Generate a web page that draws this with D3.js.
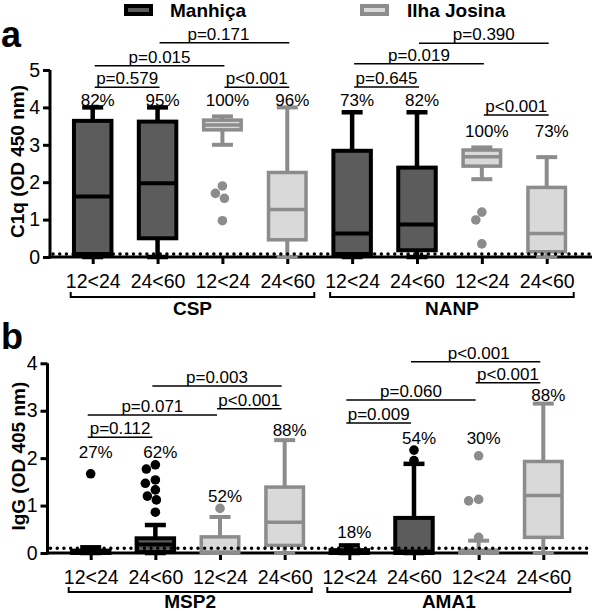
<!DOCTYPE html>
<html><head><meta charset="utf-8">
<script src="https://cdn.jsdelivr.net/npm/d3@7"></script>
<style>
body{margin:0;background:#fff}
svg{display:block}
text{font-family:"Liberation Sans",Arial,Helvetica,sans-serif;fill:#000}
</style>
</head><body>
<svg id="chart" width="592" height="611"></svg>
<script>
// ---------------- DATA ----------------
const sites = ["Manhiça", "Ilha Josina"];
const ageGroups = ["12<24", "24<60"];
const antigensA = ["CSP", "NANP"];
const antigensB = ["MSP2", "AMA1"];
// box order inside each antigen: Manhiça 12<24, Manhiça 24<60, Ilha Josina 12<24, Ilha Josina 24<60
const boxSite = [0, 0, 1, 1, 0, 0, 1, 1];
const boxAge  = [0, 1, 0, 1, 0, 1, 0, 1];

// Panel a: C1q (OD 450 nm)
const c1qMin    = [0, 0, 3.00, 0, 0, 0, 2.08, 0];
const c1qQ1     = [0.08, 0.50, 3.40, 0.46, 0.08, 0.18, 2.43, 0.14];
const c1qMedian = [1.62, 1.97, 3.53, 1.27, 0.63, 0.87, 2.68, 0.63];
const c1qQ3     = [3.64, 3.62, 3.66, 2.26, 2.84, 2.39, 2.86, 1.86];
const c1qMax    = [4.00, 4.00, 3.76, 4.00, 3.87, 3.87, 2.93, 2.67];
const c1qOutliers = [[], [], [1.90, 1.70, 1.57, 0.97], [], [], [], [1.20, 0.99, 0.35], []];
const c1qPercent = ["82%", "95%", "100%", "96%", "73%", "82%", "100%", "73%"];
const c1qPairs = [[0, 1], [0, 2], [1, 3], [2, 3], [4, 5], [4, 6], [5, 7], [6, 7]];
const c1qPValues = ["p=0.579", "p=0.015", "p=0.171", "p<0.001", "p=0.645", "p=0.019", "p=0.390", "p<0.001"];
const c1qTicks = [0, 1, 2, 3, 4, 5];
const c1qCutoff = 0.08;

// Panel b: IgG (OD 405 nm)
const igMin    = [0, 0, 0, 0, 0, 0, 0, 0];
const igQ1     = [0.00, 0.02, 0.00, 0.16, 0.00, 0.00, 0.00, 0.33];
const igMedian = [0.02, 0.18, 0.02, 0.65, 0.02, 0.03, 0.02, 1.21];
const igQ3     = [0.05, 0.31, 0.34, 1.39, 0.06, 0.74, 0.06, 1.93];
const igMax    = [0.12, 0.59, 0.76, 2.38, 0.16, 1.88, 0.26, 3.15];
const igOutliers = [[1.67], [1.86, 1.77, 1.54, 1.47, 1.33, 1.20, 1.12, 0.86], [0.94], [], [], [2.17, 1.95], [2.05, 1.13, 1.10, 0.33], []];
const igPercent = ["27%", "62%", "52%", "88%", "18%", "54%", "30%", "88%"];
const igPairs = [[0, 1], [0, 2], [1, 3], [2, 3], [4, 5], [4, 6], [5, 7], [6, 7]];
const igPValues = ["p=0.112", "p=0.071", "p=0.003", "p<0.001", "p=0.009", "p=0.060", "p<0.001", "p<0.001"];
const igTicks = [0, 1, 2, 3, 4];
const igCutoff = 0.1;

// ---------------- STYLE / LAYOUT ----------------
const siteFill = ["#5c5c5c", "#d9d9d9"];
const siteStroke = ["#000000", "#8c8c8c"];
const siteStrokeW = [4, 3.5];
const FONT_TXT = 17, FONT_TICK = 19.5, FONT_BOLD = 19;

const panels = [
  {
    letter: "a", letterY: 47, yTitle: "C1q (OD 450 nm)", titleX: 23.5,
    axisX: 50, xRange: [92.7, 546.7], yRange: [257, 70], yMax: 5, xEnd: 592,
    tickBase: 288, groupY: 297, groupLabelY: 314.5,
    antigens: antigensA, min: c1qMin, q1: c1qQ1, med: c1qMedian, q3: c1qQ3, max: c1qMax,
    outliers: c1qOutliers, percent: c1qPercent, pairs: c1qPairs, pvals: c1qPValues,
    ticks: c1qTicks, cutoff: c1qCutoff,
    pctY: [106, 106, 106, 106, 106, 106, 136.5, 136.5],
    pairY: [87.3, 65.7, 42.7, 87.3, 87, 63.7, 43.3, 115],
    pairDx: 2, pTextDx: [0, 0, -6, 0, 0, 0, 0, 0]
  },
  {
    letter: "b", letterY: 349, yTitle: "IgG (OD 405 nm)", titleX: 25,
    axisX: 47.5, xRange: [90.7, 543.3], yRange: [553, 363.3], yMax: 4, xEnd: 588,
    tickBase: 583.5, groupY: 592, groupLabelY: 607.5,
    antigens: antigensB, min: igMin, q1: igQ1, med: igMedian, q3: igQ3, max: igMax,
    outliers: igOutliers, percent: igPercent, pairs: igPairs, pvals: igPValues,
    ticks: igTicks, cutoff: igCutoff,
    pctY: [458, 458, 501.7, 436, 538, 444, 444, 400.7],
    pairY: [437.3, 415, 386, 408.7, 423, 400, 361.7, 382.7],
    pairDx: -3, pTextDx: [0, 0, 0, 0, 0, 0, 3, 0]
  }
];

const svg = d3.select("#chart");

// ---------------- LEGEND ----------------
const legendX = [126, 362], legendTextX = [170, 407];
sites.forEach((s, i) => {
  svg.append("rect").attr("x", legendX[i]).attr("y", 6).attr("width", 25).attr("height", 8)
    .attr("fill", siteFill[i]).attr("stroke", siteStroke[i]).attr("stroke-width", 4);
  svg.append("text").attr("x", legendTextX[i]).attr("y", 16.5)
    .attr("font-size", FONT_BOLD).attr("font-weight", "bold").text(s);
});

// beeswarm-like dodge for outliers
function dodge(vals, cx, y, r) {
  const placed = [];
  vals.forEach(v => {
    const py = y(v);
    let dx = 0;
    for (let k = 0; k < 80; k++) {
      const cands = k === 0 ? [0] : [-k, k];
      const ok = cands.find(c => placed.every(p => Math.hypot(p.x - c, p.y - py) >= 2 * r));
      if (ok !== undefined) { dx = ok; break; }
    }
    placed.push({ x: dx, y: py });
  });
  return placed.map(p => ({ cx: cx + p.x, cy: p.y }));
}

panels.forEach(P => {
  const g = svg.append("g");
  const keys = d3.range(8).map(i => P.antigens[Math.floor(i / 4)] + "|" + sites[boxSite[i]] + "|" + ageGroups[boxAge[i]]);
  const x = d3.scalePoint().domain(keys).range(P.xRange);
  const y = d3.scaleLinear().domain([0, P.yMax]).range(P.yRange);

  // panel letter
  g.append("text").attr("x", 1).attr("y", P.letterY).attr("font-size", 36).attr("font-weight", "bold").text(P.letter);

  // y title
  const ymid = (P.yRange[0] + P.yRange[1]) / 2 - 2;
  g.append("text").attr("transform", `translate(${P.titleX},${ymid}) rotate(-90)`)
    .attr("text-anchor", "middle").attr("font-size", FONT_BOLD).attr("font-weight", "bold").text(P.yTitle);

  // y axis
  const ya = g.append("g").attr("transform", `translate(${P.axisX},0)`)
    .call(d3.axisLeft(y).tickValues(P.ticks).tickSize(7).tickPadding(3).tickFormat(d3.format("d")));
  ya.selectAll("path, line").attr("stroke", "#000").attr("stroke-width", 3);
  ya.select(".domain").attr("d", `M0,${P.yRange[0] + 1.5}V${P.yRange[1]}`);
  ya.selectAll("text").attr("font-size", FONT_TICK).attr("fill", "#000")
    .style("font-family", '"Liberation Sans",Arial,sans-serif');

  // x axis
  const xa = g.append("g").attr("transform", `translate(0,${P.yRange[0]})`)
    .call(d3.axisBottom(x).tickSize(7).tickPadding(6).tickFormat(k => k.split("|")[2]));
  xa.select(".domain").remove();
  xa.selectAll("line").attr("stroke", "#000").attr("stroke-width", 3);
  xa.selectAll("text").attr("font-size", FONT_TICK).attr("fill", "#000").attr("dy", null)
    .attr("y", P.tickBase - P.yRange[0])
    .style("font-family", '"Liberation Sans",Arial,sans-serif');
  g.append("line").attr("x1", P.axisX - 1.5).attr("x2", P.xEnd).attr("y1", P.yRange[0]).attr("y2", P.yRange[0])
    .attr("stroke", "#000").attr("stroke-width", 3);

  // group brackets
  P.antigens.forEach((a, gi) => {
    const x0 = x(keys[gi * 4]) - 22, x1 = x(keys[gi * 4 + 3]) + 27;
    g.append("path").attr("d", `M${x0},${P.groupY - 5}V${P.groupY}H${x1}V${P.groupY - 5}`)
      .attr("fill", "none").attr("stroke", "#000").attr("stroke-width", 2);
    g.append("text").attr("x", (x0 + x1) / 2).attr("y", P.groupLabelY).attr("text-anchor", "middle")
      .attr("font-size", FONT_BOLD).attr("font-weight", "bold").text(a);
  });

  // boxes
  const bw = 37.5, cw = 21;
  d3.range(8).forEach(i => {
    const cx = x(keys[i]), s = boxSite[i];
    const col = siteStroke[s], sw = siteStrokeW[s];
    const bg = g.append("g");
    bg.append("line").attr("x1", cx).attr("x2", cx).attr("y1", y(P.max[i])).attr("y2", y(P.q3[i]))
      .attr("stroke", col).attr("stroke-width", sw + 0.5);
    bg.append("line").attr("x1", cx).attr("x2", cx).attr("y1", y(P.q1[i])).attr("y2", y(P.min[i]))
      .attr("stroke", col).attr("stroke-width", sw + 0.5);
    [P.max[i], P.min[i]].forEach(v => {
      bg.append("line").attr("x1", cx - cw / 2).attr("x2", cx + cw / 2).attr("y1", y(v)).attr("y2", y(v))
        .attr("stroke", col).attr("stroke-width", sw + 0.5);
    });
    const top = y(P.q3[i]), bot = y(P.q1[i]);
    bg.append("rect").attr("x", cx - bw / 2).attr("width", bw).attr("y", top).attr("height", Math.max(0.5, bot - top))
      .attr("fill", siteFill[s]).attr("stroke", col).attr("stroke-width", sw);
    bg.append("line").attr("x1", cx - bw / 2).attr("x2", cx + bw / 2).attr("y1", y(P.med[i])).attr("y2", y(P.med[i]))
      .attr("stroke", col).attr("stroke-width", sw);
  });

  // cutoff dotted line
  g.append("line").attr("x1", P.axisX + 3).attr("x2", P.xEnd).attr("y1", y(P.cutoff)).attr("y2", y(P.cutoff))
    .attr("stroke", "#000").attr("stroke-width", 3.4).attr("stroke-linecap", "round")
    .attr("stroke-dasharray", "0.1,6.6");

  // outliers
  d3.range(8).forEach(i => {
    const pts = dodge(P.outliers[i], x(keys[i]), y, 4.8);
    g.selectAll(null).data(pts).enter().append("circle")
      .attr("cx", d => d.cx).attr("cy", d => d.cy).attr("r", 4.8)
      .attr("fill", siteStroke[boxSite[i]]);
  });

  // percent labels
  P.percent.forEach((t, i) => {
    g.append("text").attr("x", x(keys[i]) + 5).attr("y", P.pctY[i]).attr("text-anchor", "middle")
      .attr("font-size", FONT_TXT).text(t);
  });

  // p-value brackets
  P.pairs.forEach(([a, b], k) => {
    const x0 = x(keys[a]) + P.pairDx, x1 = x(keys[b]) + P.pairDx, ly = P.pairY[k];
    g.append("line").attr("x1", x0).attr("x2", x1).attr("y1", ly).attr("y2", ly)
      .attr("stroke", "#000").attr("stroke-width", 1.6);
    g.append("text").attr("x", (x0 + x1) / 2 + P.pTextDx[k]).attr("y", ly - 3).attr("text-anchor", "middle")
      .attr("font-size", FONT_TXT).text(P.pvals[k]);
  });
});
</script>
</body></html>
